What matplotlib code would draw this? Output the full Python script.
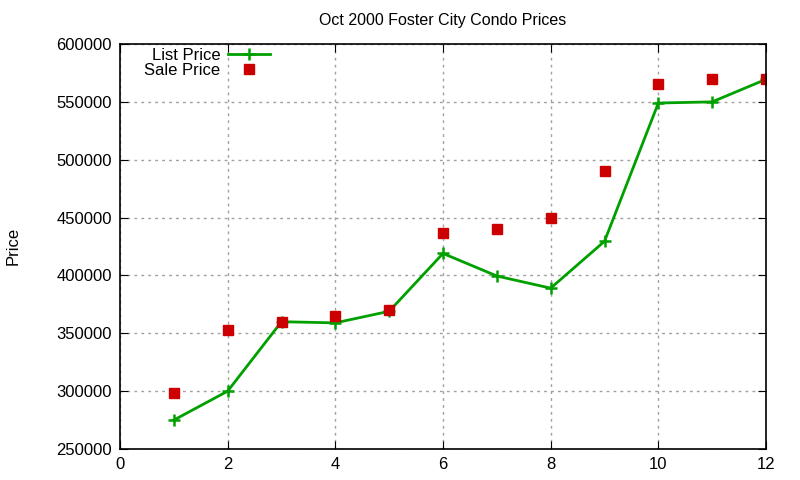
import matplotlib
matplotlib.use("Agg")
import matplotlib.pyplot as plt

plt.rcParams['font.family'] = ['Liberation Sans', 'DejaVu Sans']

month = [1, 2, 3, 4, 5, 6, 7, 8, 9, 10, 11, 12]
list_price = [275000, 300000, 360000, 359000, 369000, 419000,
              399500, 389000, 429500, 549000, 550000, 569500]
sale_price = [298000, 352500, 360000, 365000, 370500, 436500,
              440000, 450000, 490000, 565500, 570000, 570000]

fig = plt.figure(figsize=(8, 4.8), dpi=100)
ax = fig.add_axes([0.15, 0.0646, 0.8075, 0.8437])

ax.plot(month, list_price, color='#00a000', lw=2, marker='+', ms=8, mew=1.8,
        label='List Price')
ax.plot(month, sale_price, ls='none', color='#cc0000', marker='s', ms=7,
        label='Sale Price')

ax.set_xlim(0, 12)
ax.set_ylim(250000, 600000)
ax.set_xticks(range(0, 13, 2))
ax.set_yticks(range(250000, 600001, 50000))
ax.grid(True, color='#a0a0a0', ls=(0, (2, 3)), lw=1)
ax.tick_params(direction='in', top=True, right=True, length=6, labelsize=12, pad=6)
for s in ax.spines.values():
    s.set_linewidth(1.2)

ax.set_title('Oct 2000 Foster City Condo Prices', fontsize=11.5, pad=14)
fig.text(0.016, 0.487, 'Price', rotation=90, fontsize=12, ha='center', va='center')

leg = ax.legend(loc='upper left', bbox_to_anchor=(0.022, 1.016), markerfirst=False,
                frameon=False, fontsize=12, handlelength=2.5, handletextpad=0.45,
                labelspacing=0.02, borderaxespad=0.2)
for t in leg.get_texts():
    t.set_ha('right')

fig.savefig('out.png', dpi=100)
